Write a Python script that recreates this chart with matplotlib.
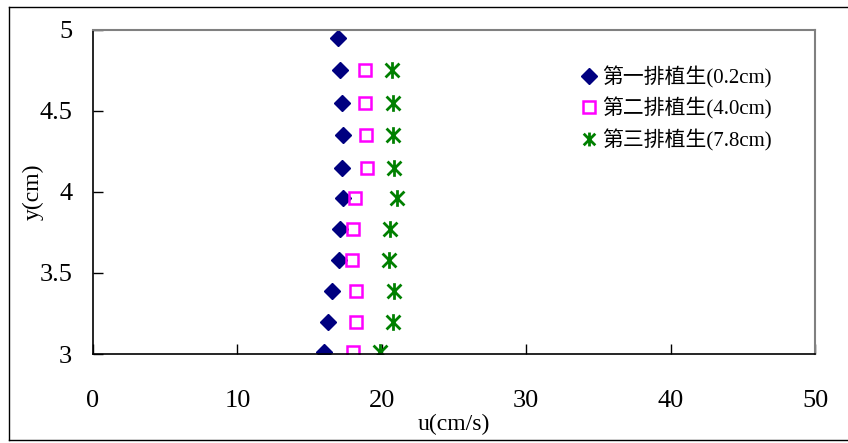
import matplotlib
matplotlib.use("Agg")
import matplotlib.pyplot as plt
from matplotlib.lines import Line2D
from matplotlib.path import Path

plt.rcParams["font.family"] = ["Liberation Serif", "Noto Sans CJK TC"]

# row 1 (0.2 cm)
y_row1 = [4.95, 4.75, 4.55, 4.35, 4.15, 3.96, 3.77, 3.58, 3.39, 3.20, 3.01]
u_row1 = [16.98, 17.10, 17.21, 17.33, 17.21, 17.33, 17.10, 17.05, 16.52, 16.29, 16.02]

# rows 2 and 3 (4.0 cm, 7.8 cm)
y_rows23 = [4.75, 4.55, 4.35, 4.15, 3.96, 3.77, 3.58, 3.39, 3.20, 3.01]
u_row2 = [18.81, 18.85, 18.90, 18.97, 18.14, 18.02, 17.95, 18.21, 18.21, 18.02]
u_row3 = [20.68, 20.75, 20.75, 20.84, 21.03, 20.56, 20.51, 20.86, 20.79, 19.87]

labels = ["第一排植生(0.2cm)", "第二排植生(4.0cm)", "第三排植生(7.8cm)"]
x_ticks = [0, 10, 20, 30, 40, 50]
y_ticks = [3, 3.5, 4, 4.5, 5]
y_tick_labels = ["3", "3.5", "4", "4.5", "5"]

# Excel-like star: an X with a vertical bar
star = Path(
    [(-1, -1), (1, 1), (-1, 1), (1, -1), (0, -1.2), (0, 1.2)],
    [Path.MOVETO, Path.LINETO, Path.MOVETO, Path.LINETO, Path.MOVETO, Path.LINETO],
)

fig = plt.figure(figsize=(8.48, 4.43), dpi=100)
ax = fig.add_axes([0.1097, 0.2009, 0.8514, 0.7314])

ax.plot(u_row1, y_row1, ls="none", marker="D", ms=8, color="#000080", label=labels[0])
ax.plot(u_row2, y_rows23, ls="none", marker="s", ms=9, mfc="none", mec="#FF00FF", mew=1.8, label=labels[1])
ax.plot(u_row3, y_rows23, ls="none", marker=star, ms=12, color="#008000", mew=2, label=labels[2])

ax.set_xlim(0, 50)
ax.set_ylim(3, 5)
ax.set_xticks(x_ticks)
ax.set_yticks(y_ticks)
ax.set_yticklabels(y_tick_labels)
ax.tick_params(axis="x", direction="in", length=7, width=1, labelsize=19, pad=26)
ax.tick_params(axis="y", direction="in", length=7, width=1, labelsize=19, pad=15)
for side in ("top", "right"):
    ax.spines[side].set_color("#808080")
    ax.spines[side].set_linewidth(1.5)
for side in ("left", "bottom"):
    ax.spines[side].set_color("black")
    ax.spines[side].set_linewidth(1.2)

ax.set_xlabel("u(cm/s)", fontsize=17, labelpad=0)
ax.set_ylabel("y(cm)", fontsize=17, labelpad=2)
ax.xaxis.set_label_coords(0.5, -0.185)
ax.yaxis.set_label_coords(-0.068, 0.5)

handles = [
    Line2D([], [], ls="none", marker="D", ms=8, color="#000080"),
    Line2D([], [], ls="none", marker="s", ms=8, mfc="none", mec="#FF00FF", mew=1.8),
    Line2D([], [], ls="none", marker=star, ms=10, color="#008000", mew=2),
]
ax.legend(handles, labels, loc="upper left", bbox_to_anchor=(0.664, 0.915),
          frameon=False, fontsize=15, handlelength=0.8, handletextpad=0.2,
          labelspacing=0.45, borderaxespad=0)

# outer border around the whole chart
W, H = 848, 443
fig.add_artist(Line2D([9 / W, 9 / W], [1 - 7 / H, 1 - 440 / H], color="black", lw=1))
fig.add_artist(Line2D([9 / W, 1.0], [1 - 7 / H, 1 - 7 / H], color="black", lw=1))
fig.add_artist(Line2D([9 / W, 1.0], [1 - 440 / H, 1 - 440 / H], color="black", lw=1))

fig.savefig("out.png", dpi=100)
